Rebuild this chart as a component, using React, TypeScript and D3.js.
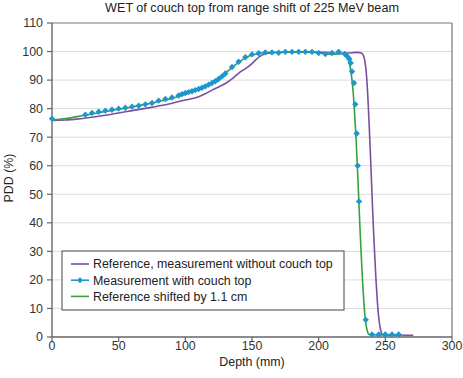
import React from "react";
import * as d3 from "d3";

const xTicks = [0, 50, 100, 150, 200, 250, 300];
const yTicks = [0, 10, 20, 30, 40, 50, 60, 70, 80, 90, 100, 110];

const refDepth = [0, 10, 20, 30, 40, 50, 60, 70, 80, 90, 100, 110, 115, 120, 130, 136, 141, 146, 150, 153, 156, 160, 165, 170, 180, 190, 200, 210, 215, 220, 225, 229, 232, 234, 235, 236, 237, 238, 239, 240, 241, 242, 243, 244, 245, 246, 247, 248, 260, 271];
const refPdd = [75.9, 76.0, 76.4, 77.0, 77.7, 78.5, 79.3, 80.1, 80.9, 81.9, 83.0, 84.2, 85.2, 86.5, 88.8, 90.8, 92.8, 94.3, 95.8, 97.2, 98.3, 99.2, 99.6, 99.7, 99.8, 99.9, 99.8, 99.6, 99.2, 99.4, 99.6, 99.7, 99.5, 98.0, 95.5, 91.0, 83.0, 73.0, 62.0, 50.0, 39.0, 29.0, 20.0, 12.5, 7.0, 3.5, 1.6, 0.9, 0.7, 0.6];

const measDepth = [0, 25, 30, 35, 40, 45, 50, 55, 60, 65, 70, 75, 80, 85, 90, 95, 97.5, 100, 102.5, 105, 107.5, 110, 112.5, 115, 117.5, 120, 122.5, 125, 127.5, 130, 135, 140, 145, 150, 155, 160, 165, 170, 175, 180, 185, 190, 195, 200, 205, 210, 215, 219.5, 221.5, 223, 224, 225, 226.5, 227.5, 228.5, 229.3, 230.3, 235.3, 240, 245, 250, 255, 260];
const measPdd = [76.5, 77.9, 78.5, 78.9, 79.3, 79.6, 80.0, 80.3, 80.7, 81.0, 81.5, 82.0, 82.8, 83.4, 83.9, 84.6, 85.1, 85.5, 85.8, 86.1, 86.5, 86.9, 87.3, 87.8, 88.4, 89.0, 89.6, 90.4, 91.3, 92.3, 94.6, 96.4, 98.0, 99.0, 99.4, 99.7, 99.7, 99.6, 99.9, 99.9, 99.9, 99.9, 99.9, 99.5, 99.1, 99.5, 99.9, 99.2, 98.3, 97.4, 96.0, 93.0, 89.0, 81.5, 71.3, 60.0, 47.5, 6.0, 0.9, 0.9, 0.9, 0.9, 0.9];

const shiftDepth = [0, 10, 20, 30, 40, 50, 60, 70, 80, 90, 100, 104, 110, 120, 130, 140, 145, 150, 155, 160, 170, 180, 190, 200, 205, 210, 215, 218, 220, 221, 222, 223, 224, 225, 226, 227, 228, 229, 230, 231, 232, 233, 234, 235, 236, 237, 238, 250, 260];
const shiftPdd = [76.0, 76.5, 77.3, 78.1, 79.0, 79.8, 80.6, 81.5, 82.5, 83.6, 85.0, 85.8, 87.0, 89.3, 92.5, 96.2, 97.8, 98.8, 99.3, 99.6, 99.8, 99.9, 99.8, 99.6, 99.2, 99.0, 99.3, 99.4, 99.0, 98.3, 97.5, 96.0, 93.5, 90.0, 85.0, 78.0, 70.0, 60.0, 49.0, 38.0, 28.0, 19.0, 11.5, 6.0, 3.0, 1.4, 0.8, 0.7, 0.6];

const legendLabels = [
  "Reference, measurement without couch top",
  "Measurement with couch top",
  "Reference shifted by 1.1 cm",
];
const colors = ["#7b4f9d", "#1b96d3", "#35a23b"];

const W = 463, H = 378;
const m = { left: 52, right: 11, top: 23, bottom: 41 };

export default function App() {
  const x = d3.scaleLinear().domain([0, 300]).range([m.left, W - m.right]);
  const y = d3.scaleLinear().domain([0, 110]).range([H - m.bottom, m.top]);
  const line = d3.line<[number, number]>().x((d) => x(d[0])).y((d) => y(d[1])).curve(d3.curveMonotoneX);
  const ref = refDepth.map((d, i) => [d, refPdd[i]] as [number, number]);
  const meas = measDepth.map((d, i) => [d, measPdd[i]] as [number, number]);
  const shift = shiftDepth.map((d, i) => [d, shiftPdd[i]] as [number, number]);
  const diamond = (cx: number, cy: number, r: number) =>
    `M${cx},${cy - r}L${cx + r},${cy}L${cx},${cy + r}L${cx - r},${cy}Z`;
  const font = "Liberation Sans, Arial, sans-serif";
  const x0 = m.left, x1 = W - m.right, y0 = H - m.bottom, y1 = m.top;
  return (
    <svg width={W} height={H} style={{ position: "absolute", left: 0, top: 0, background: "#fff" }} fontFamily={font}>
      <rect x={0} y={0} width={W} height={H} fill="#fff" />
      {yTicks.filter((t) => t > 0 && t < 110).map((t) => (
        <line key={"g" + t} x1={x0} x2={x1} y1={y(t)} y2={y(t)} stroke="#dcdcdc" strokeWidth={1} />
      ))}
      <line x1={x0} x2={x1} y1={y1} y2={y1} stroke="#777" strokeWidth={1.2} />
      <line x1={x1} x2={x1} y1={y1} y2={y0} stroke="#777" strokeWidth={1.2} />
      <line x1={x0} x2={x0} y1={y1} y2={y0} stroke="#666" strokeWidth={1.4} />
      <line x1={x0} x2={x1} y1={y0} y2={y0} stroke="#666" strokeWidth={1.4} />
      {yTicks.map((t) => (
        <g key={"y" + t}>
          <line x1={x0 - 5} x2={x0} y1={y(t)} y2={y(t)} stroke="#666" strokeWidth={1.2} />
          <text x={x0 - 9} y={y(t) + 4.4} textAnchor="end" fontSize={12.4} fill="#333">{t}</text>
        </g>
      ))}
      {xTicks.map((t) => (
        <g key={"x" + t}>
          <line x1={x(t)} x2={x(t)} y1={y0} y2={y0 + 5} stroke="#666" strokeWidth={1.2} />
          <text x={x(t)} y={y0 + 12.8} textAnchor="middle" fontSize={12.4} fill="#333">{t}</text>
        </g>
      ))}
      <text x={(x0 + x1) / 2} y={12} textAnchor="middle" fontSize={12.6} fill="#222">WET of couch top from range shift of 225 MeV beam</text>
      <text x={(x0 + x1) / 2} y={366} textAnchor="middle" fontSize={12.4} fill="#222">Depth (mm)</text>
      <text transform={`translate(13,178) rotate(-90)`} textAnchor="middle" fontSize={12.4} fill="#222">PDD (%)</text>

      <path d={line(ref) || ""} fill="none" stroke={colors[0]} strokeWidth={1.6} />
      <path d={line(shift) || ""} fill="none" stroke={colors[2]} strokeWidth={1.6} />
      {meas.map((d, i) => (
        <path key={"m" + i} d={diamond(x(d[0]), y(d[1]), 3.2)} fill={colors[1]} />
      ))}

      <rect x={62} y={251} width={282} height={59} fill="#fff" stroke="#444" strokeWidth={1} />
      {legendLabels.map((l, i) => {
        const cy = 264 + i * 16.2;
        return (
          <g key={"l" + i}>
            <line x1={71} x2={89} y1={cy} y2={cy} stroke={colors[i]} strokeWidth={1.6} />
            {i === 1 && <path d={diamond(80, cy, 3)} fill={colors[1]} />}
            <text x={93} y={cy + 4.4} fontSize={12.4} fill="#222">{l}</text>
          </g>
        );
      })}
    </svg>
  );
}
